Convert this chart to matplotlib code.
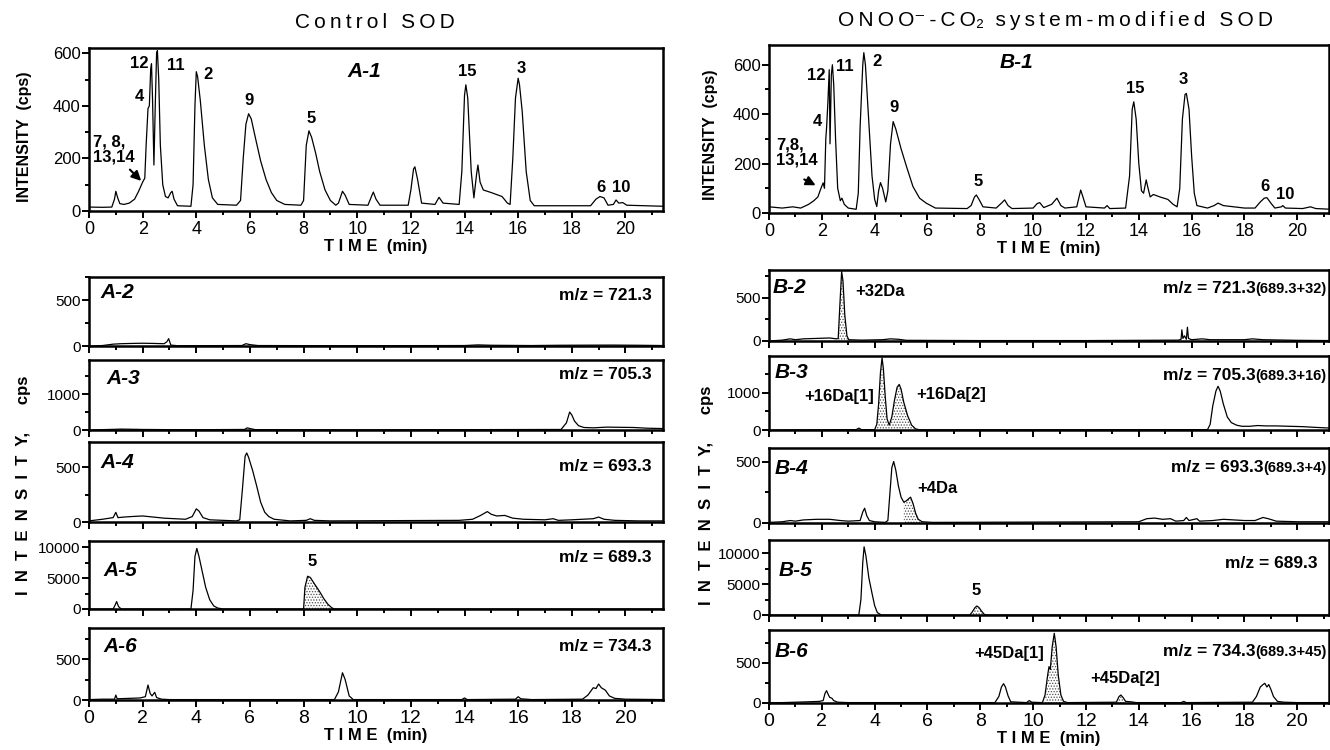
import numpy as np
import matplotlib.pyplot as plt
from matplotlib.ticker import MultipleLocator

plt.rcParams['font.family'] = ['Liberation Sans', 'DejaVu Sans']
plt.rcParams['hatch.linewidth'] = 0.6
plt.rcParams['hatch.color'] = '0.3'

W, H = 1330, 750

# ---- traces: retention time (min) / intensity (cps) ----
a1_t = [0.0, 0.5, 0.85, 0.95, 1.0, 1.07, 1.15, 1.3, 1.5, 1.7, 1.85, 2.0, 2.08, 2.13, 2.2, 2.25, 2.3,
        2.33, 2.37, 2.42, 2.47, 2.52, 2.55, 2.6, 2.66, 2.75, 2.85, 2.95, 3.05, 3.1, 3.17, 3.3, 3.8,
        3.88, 3.95, 4.0, 4.05, 4.15, 4.3, 4.45, 4.6, 4.8, 5.5, 5.65, 5.75, 5.85, 5.95, 6.05, 6.2,
        6.4, 6.6, 6.8, 7.0, 7.3, 7.9, 8.0, 8.1, 8.2, 8.3, 8.45, 8.6, 8.8, 9.0, 9.2, 9.3, 9.45, 9.55,
        9.7, 10.4, 10.55, 10.6, 10.7, 10.85, 11.9, 12.0, 12.1, 12.15, 12.25, 12.4, 12.9, 13.05, 13.2,
        13.8, 13.9, 14.0, 14.05, 14.12, 14.25, 14.35, 14.45, 14.5, 14.58, 14.7, 15.0, 15.4, 15.6,
        15.7, 15.8, 15.9, 16.0, 16.05, 16.15, 16.3, 16.45, 16.6, 18.7, 18.9, 19.05, 19.2, 19.35,
        19.55, 19.65, 19.75, 19.9, 20.05, 21.4]
a1_y = [15, 14, 15, 45, 75, 50, 28, 25, 30, 45, 75, 110, 125, 250, 390, 400, 540,
        560, 420, 175, 400, 600, 610, 500, 250, 100, 55, 50, 70, 75, 45, 20, 18,
        100, 400, 530, 510, 420, 250, 120, 50, 25, 22, 40, 200, 330, 370, 350, 280,
        190, 120, 70, 40, 25, 22, 40, 250, 305, 280, 220, 150, 80, 40, 22, 30, 75, 60,
        25, 22, 60, 72, 45, 22, 22, 80, 160, 168, 120, 30, 25, 52, 30,
        25, 150, 440, 480, 430, 150, 50, 140, 175, 110, 80, 70, 55, 30,
        25, 200, 430, 505, 480, 380, 150, 40, 20, 20, 45, 55, 50, 22,
        25, 42, 30, 32, 22, 18]

a2_t = [0, 0.5, 0.9, 1.2, 1.6, 2.0, 2.4, 2.8, 2.9, 2.97, 3.05, 3.3, 5.7, 5.85, 6.0, 6.3, 9.5,
        14.0, 14.5, 15.0, 16.5, 17.5, 19.5, 20.5, 21.4]
a2_y = [0, 5, 20, 25, 28, 30, 28, 25, 45, 80, 10, 3, 5, 25, 15, 5, 3,
        5, 12, 8, 5, 8, 10, 8, 5]

a3_t = [0, 0.5, 1.0, 1.2, 2.0, 3.0, 4.5, 5.8, 5.9, 6.0, 6.2, 10, 14, 17.6, 17.8, 17.92, 18.0,
        18.1, 18.25, 18.45, 18.8, 19.3, 19.8, 20.3, 20.8, 21.4]
a3_y = [0, 10, 20, 25, 15, 10, 10, 15, 60, 40, 10, 5, 10, 15, 200, 500, 420,
        250, 120, 70, 60, 80, 75, 70, 50, 40]

a4_t = [0, 0.5, 0.9, 1.0, 1.08, 1.3, 1.6, 2.0, 2.4, 2.8, 3.2, 3.6, 3.85, 4.0, 4.1, 4.25, 4.5,
        5.5, 5.62, 5.72, 5.82, 5.88, 5.95, 6.1, 6.25, 6.4, 6.55, 6.7, 6.9, 7.5, 8.1, 8.25, 8.4,
        9.0, 13.8, 14.3, 14.6, 14.85, 15.0, 15.2, 15.5, 15.8, 16.2, 17.0, 17.3, 17.5, 18.0, 18.8,
        19.0, 19.2, 19.6, 20.5, 21.4]
a4_y = [10, 25, 40, 88, 40, 45, 50, 55, 45, 35, 30, 25, 50, 120, 100, 40, 20,
        10, 20, 300, 600, 630, 590, 470, 330, 180, 90, 50, 25, 10, 15, 30, 15,
        10, 15, 25, 60, 95, 70, 55, 60, 35, 25, 20, 30, 15, 20, 30,
        45, 25, 15, 10, 10]

a5_t = [0, 0.9, 0.97, 1.03, 1.1, 1.2, 3.8, 3.88, 3.95, 4.02, 4.1, 4.2, 4.35, 4.5, 4.65, 4.8,
        5.0, 8.0, 8.05, 8.15, 8.25, 8.4, 8.6, 8.75, 8.9, 9.05, 9.15, 21.4]
a5_y = [0, 0, 600, 1200, 400, 0, 0, 3000, 8500, 9800, 8500, 6500, 3500, 1500, 500, 150,
        0, 0, 3500, 5300, 5100, 4100, 2800, 1700, 800, 200, 0, 0]

a6_t = [0, 0.5, 0.95, 1.0, 1.05, 1.5, 1.9, 2.1, 2.2, 2.28, 2.35, 2.45, 2.52, 2.7, 3.0, 9.15,
        9.3, 9.45, 9.55, 9.7, 9.85, 13.9, 14.0, 14.1, 15.9, 16.0, 16.1, 16.5, 18.4, 18.6, 18.8,
        18.9, 19.0, 19.1, 19.25, 19.4, 19.6, 20.0, 21.4]
a6_y = [5, 10, 10, 60, 15, 20, 25, 40, 183, 80, 50, 94, 30, 10, 5, 5,
        100, 333, 250, 50, 5, 5, 25, 5, 10, 40, 15, 5, 10, 60, 150,
        140, 195, 150, 120, 50, 20, 10, 5]

b1_t = [0, 0.5, 0.9, 1.2, 1.5, 1.7, 1.85, 1.95, 2.05, 2.1, 2.15, 2.18, 2.23, 2.28, 2.31, 2.36,
        2.4, 2.45, 2.52, 2.6, 2.7, 2.76, 2.85, 3.0, 3.3, 3.38, 3.45, 3.55, 3.59, 3.65, 3.75, 3.9,
        4.0, 4.08, 4.15, 4.22, 4.3, 4.42, 4.5, 4.6, 4.7, 4.8, 5.0, 5.2, 5.45, 5.7, 5.95, 6.3, 7.5,
        7.65, 7.78, 7.85, 7.95, 8.1, 8.6, 8.8, 8.92, 9.05, 9.2, 10.0, 10.15, 10.25, 10.4, 10.7,
        10.9, 11.05, 11.2, 11.65, 11.8, 11.9, 12.0, 12.7, 12.8, 12.9, 13.5, 13.65, 13.75, 13.81,
        13.9, 14.0, 14.1, 14.18, 14.28, 14.35, 14.43, 14.55, 14.8, 15.1, 15.3, 15.45, 15.55, 15.65,
        15.75, 15.8, 15.9, 16.0, 16.1, 16.2, 16.6, 16.85, 17.0, 17.2, 17.6, 18.0, 18.4, 18.6,
        18.75, 18.85, 19.0, 19.15, 19.4, 19.45, 19.55, 20.2, 20.5, 20.7, 21.3]
b1_y = [25, 20, 25, 20, 35, 50, 65, 95, 122, 100, 300, 345, 450, 580, 280, 560,
        600, 520, 300, 100, 50, 60, 35, 20, 15, 80, 350, 600, 649, 600, 420, 150,
        55, 26, 90, 123, 100, 45, 90, 280, 370, 340, 260, 190, 107, 60, 40, 20, 18,
        30, 65, 73, 55, 25, 20, 40, 53, 30, 18, 20, 38, 42, 22, 35,
        60, 30, 20, 25, 93, 60, 25, 20, 30, 18, 20, 150, 420, 450,
        380, 200, 90, 80, 134, 100, 65, 75, 65, 55, 35, 25, 100, 380,
        480, 484, 420, 230, 80, 30, 20, 30, 40, 30, 25, 20, 20, 45,
        60, 62, 40, 20, 25, 30, 20, 18, 25, 18, 15]

b2_t = [0, 0.5, 0.8, 1.0, 1.3, 1.8, 2.3, 2.55, 2.62, 2.68, 2.75, 2.8, 2.87, 2.95, 3.02, 3.5,
        4.3, 4.6, 4.9, 5.2, 8, 12, 15.5, 15.6, 15.63, 15.67, 15.73, 15.8, 15.84, 15.88, 16.0,
        16.4, 16.7, 18.0, 18.3, 18.7, 20, 21.3]
b2_y = [0, 10, 25, 15, 25, 30, 35, 25, 30, 400, 806, 700, 300, 60, 15, 10,
        15, 25, 20, 8, 5, 5, 10, 20, 130, 30, 60, 20, 160, 30, 15,
        25, 15, 15, 25, 15, 8, 5]

b3_t = [0, 1.0, 3.3, 3.4, 3.5, 4.0, 4.08, 4.15, 4.22, 4.28, 4.33, 4.4, 4.47, 4.55, 4.65, 4.75,
        4.85, 4.93, 5.0, 5.1, 5.25, 5.4, 5.55, 5.7, 16.6, 16.7, 16.8, 16.92, 17.0, 17.08, 17.2,
        17.35, 17.5, 17.7, 17.9, 18.2, 18.5, 18.8, 19.2, 19.7, 20.2, 20.7, 21.3]
b3_y = [0, 5, 10, 50, 10, 10, 150, 700, 1550, 1940, 1650, 900, 300, 130, 350, 800,
        1150, 1226, 1100, 750, 380, 130, 30, 5, 10, 150, 650, 1050, 1176, 1050, 700,
        350, 200, 130, 100, 100, 120, 110, 110, 100, 90, 70, 50]

b4_t = [0, 0.5, 0.8, 1.0, 1.3, 1.8, 2.3, 2.7, 3.0, 3.45, 3.55, 3.62, 3.7, 3.8, 4.0, 4.4, 4.5,
        4.58, 4.65, 4.72, 4.8, 4.9, 5.0, 5.1, 5.2, 5.3, 5.36, 5.45, 5.55, 5.65, 5.8, 6.2, 14.0,
        14.3, 14.6, 14.9, 15.2, 15.4, 15.7, 15.8, 15.9, 16.2, 16.3, 16.8, 17.2, 17.6, 18.0, 18.4,
        18.7, 18.9, 19.2, 20, 21.3]
b4_y = [5, 10, 20, 15, 25, 30, 30, 20, 15, 20, 90, 120, 60, 20, 10, 5, 20,
        250, 450, 500, 430, 300, 210, 170, 180, 200, 210, 160, 80, 30, 10, 5, 10,
        35, 40, 30, 35, 15, 20, 45, 20, 35, 15, 20, 30, 25, 20, 20,
        45, 35, 15, 10, 10]

b5_t = [0, 3.4, 3.48, 3.55, 3.6, 3.67, 3.78, 3.9, 4.0, 4.1, 4.25, 7.6, 7.68, 7.8, 7.87, 7.95,
        8.05, 8.15, 8.25, 21.3]
b5_y = [0, 0, 2500, 8500, 11000, 9500, 6000, 3500, 1500, 400, 0, 0, 400, 1200, 1450, 1200,
        600, 100, 0, 0]

b6_t = [0, 0.5, 1.0, 1.5, 1.9, 2.05, 2.12, 2.18, 2.25, 2.3, 2.38, 2.45, 2.6, 3.0, 8.55, 8.7,
        8.8, 8.88, 8.95, 9.05, 9.15, 9.75, 9.85, 9.95, 10.35, 10.45, 10.55, 10.6, 10.65, 10.72,
        10.8, 10.87, 10.95, 11.05, 11.15, 11.3, 13.15, 13.25, 13.32, 13.4, 13.5, 13.7, 13.9,
        15.6, 15.7, 15.8, 18.3, 18.45, 18.6, 18.7, 18.77, 18.85, 18.92, 19.0, 19.1, 19.25, 19.5,
        20, 21.3]
b6_y = [5, 5, 10, 15, 20, 30, 120, 154, 100, 70, 60, 30, 10, 5, 5, 80,
        200, 241, 200, 90, 15, 5, 30, 10, 5, 100, 350, 454, 420, 700,
        871, 700, 350, 100, 20, 5, 10, 80, 100, 70, 20, 15, 5,
        5, 20, 5, 10, 80, 200, 230, 246, 200, 230, 170, 80, 20, 10,
        5, 5]

# shaded (stippled) peak windows, min
a5_shade = [(8.0, 9.15)]
b2_shade = [(2.62, 3.02)]
b3_shade = [(4.05, 4.55), (4.55, 5.6)]
b4_shade = [(5.05, 5.8)]
b5_shade = [(7.65, 8.2)]
b6_shade = [(10.4, 11.2), (13.15, 13.5)]

# peak numbers in the total ion chromatograms: (text, time, intensity)
a1_peaks = [('12', 1.87, 562), ('11', 3.25, 555), ('2', 4.45, 520), ('4', 1.88, 434),
            ('9', 5.95, 421), ('5', 8.3, 352), ('15', 14.1, 529), ('3', 16.1, 543),
            ('6', 19.1, 90), ('10', 19.85, 90)]
b1_peaks = [('12', 1.8, 557), ('11', 2.87, 594), ('2', 4.07, 614), ('4', 1.82, 370),
            ('9', 4.73, 426), ('5', 7.9, 127), ('15', 13.88, 502), ('3', 15.7, 540),
            ('6', 18.79, 107), ('10', 19.54, 73)]

fig = plt.figure(figsize=(W / 100, H / 100), dpi=100)


def rect(x0, top, x1, bottom):
    return [x0 / W, 1 - bottom / H, (x1 - x0) / W, (bottom - top) / H]


def panel(r, t, y, ylim, ymaj, xmax, shade=(), xlab=False, xsize=14, ysize=11):
    ax = fig.add_axes(r)
    t = np.array(t, float)
    y = np.array(y, float)
    for a, b in shade:
        m = (t >= a) & (t <= b)
        ax.fill_between(t[m], 0, y[m], facecolor='white', hatch='......',
                        edgecolor='0.3', linewidth=0)
    ax.plot(t, y, color='k', lw=0.9)
    ax.set_xlim(0, xmax)
    ax.set_ylim(0, ylim)
    ax.xaxis.set_major_locator(MultipleLocator(2))
    ax.xaxis.set_minor_locator(MultipleLocator(1))
    ax.yaxis.set_major_locator(MultipleLocator(ymaj))
    ax.yaxis.set_minor_locator(MultipleLocator(ymaj / 2))
    ax.tick_params(which='both', direction='out', width=1.4)
    ax.tick_params(which='major', length=5)
    ax.tick_params(which='minor', length=3)
    ax.tick_params(axis='y', labelsize=ysize, pad=1)
    ax.tick_params(axis='x', labelsize=xsize, labelbottom=xlab, pad=2)
    for s in ax.spines.values():
        s.set_linewidth(1.8)
    if xlab:
        ax.set_xlabel('T I M E  (min)', fontsize=12, fontweight='bold', labelpad=1)
    return ax


def tag(ax, name, x, y):
    ax.text(x, y, name, transform=ax.transAxes, fontsize=15, fontweight='bold',
            style='italic', ha='left', va='center')


def mz(ax, main, extra, y):
    if extra:
        t2 = ax.text(0.996, y, extra, transform=ax.transAxes, fontsize=10.5,
                     fontweight='bold', ha='right', va='bottom')
        ax.annotate(main, xy=(0, 0), xycoords=t2, fontsize=12.5, fontweight='bold',
                    ha='right', va='bottom')
    else:
        ax.text(0.98, y, main, transform=ax.transAxes, fontsize=12.5,
                fontweight='bold', ha='right', va='bottom')


AX, BX = 21.4, 21.2
big_label = '  '.join('INTENSITY') + ',      cps'

# ---- left column: control SOD ----
ax = panel(rect(89, 48, 663, 211), a1_t, a1_y, 620, 200, AX, xlab=True, xsize=13, ysize=12)
for s, x, yv in a1_peaks:
    ax.text(x, yv, s, fontsize=12, fontweight='bold', ha='center', va='center')
ax.text(0.15, 233, '7, 8,\n13,14', fontsize=12, fontweight='bold', ha='left', va='center',
        linespacing=1.0)
ax.annotate('', xy=(2.02, 107), xytext=(1.45, 165),
            arrowprops=dict(arrowstyle='-|>', lw=1.5, color='k', mutation_scale=14))
ax.text(9.65, 529, 'A-1', fontsize=15, fontweight='bold', style='italic', va='center')
fig.text(25 / W, 1 - 137 / H, 'INTENSITY  (cps)', rotation=90, fontsize=11.5,
         fontweight='bold', ha='center', va='center')
fig.text(375 / W, 1 - 22 / H, '\u2009'.join('Control SOD'), fontsize=15,
         ha='center', va='center')

ax = panel(rect(89, 277, 663, 346), a2_t, a2_y, 750, 500, AX)
tag(ax, 'A-2', 0.02, 0.77)
mz(ax, 'm/z = 721.3', '', 0.62)
ax = panel(rect(89, 360, 663, 430), a3_t, a3_y, 1950, 1000, AX)
tag(ax, 'A-3', 0.03, 0.74)
mz(ax, 'm/z = 705.3', '', 0.69)
ax = panel(rect(89, 442, 663, 522), a4_t, a4_y, 730, 500, AX)
tag(ax, 'A-4', 0.02, 0.74)
mz(ax, 'm/z = 693.3', '', 0.6)
ax = panel(rect(89, 541, 663, 609), a5_t, a5_y, 11000, 5000, AX, shade=a5_shade)
tag(ax, 'A-5', 0.025, 0.57)
mz(ax, 'm/z = 689.3', '', 0.65)
ax.text(8.32, 7630, '5', fontsize=12, fontweight='bold', ha='center', va='center')
ax = panel(rect(89, 628, 663, 700), a6_t, a6_y, 880, 500, AX, xlab=True)
tag(ax, 'A-6', 0.025, 0.74)
mz(ax, 'm/z = 734.3', '', 0.64)
fig.text(24 / W, 1 - 485 / H, big_label, rotation=90, fontsize=12,
         fontweight='bold', ha='center', va='center')

# ---- right column: ONOO- / CO2 modified SOD ----
ax = panel(rect(769, 45, 1329, 213), b1_t, b1_y, 680, 200, BX, xlab=True, xsize=13, ysize=12)
for s, x, yv in b1_peaks:
    ax.text(x, yv, s, fontsize=12, fontweight='bold', ha='center', va='center')
ax.text(0.27, 243, '7,8,\n13,14', fontsize=12, fontweight='bold', ha='left', va='center',
        linespacing=1.0)
ax.annotate('', xy=(1.86, 107), xytext=(1.24, 141),
            arrowprops=dict(arrowstyle='-|>', lw=1.5, color='k', mutation_scale=14))
ax.text(8.73, 610, 'B-1', fontsize=15, fontweight='bold', style='italic', va='center')
fig.text(710 / W, 1 - 135 / H, 'INTENSITY  (cps)', rotation=90, fontsize=11.5,
         fontweight='bold', ha='center', va='center')
fig.text(1056 / W, 1 - 20 / H,
         '\u2009'.join('ONOO') + '\u207b\u2009-\u2009' + '\u2009'.join('CO') + '\u2082  '
         + '\u2009'.join('system-modified SOD'),
         fontsize=15, ha='center', va='center')

ax = panel(rect(769, 270, 1329, 341), b2_t, b2_y, 825, 500, BX, shade=b2_shade)
tag(ax, 'B-2', 0.007, 0.76)
mz(ax, 'm/z = 721.3', '(689.3+32)', 0.64)
ax.text(3.25, 573, '+32Da', fontsize=12, fontweight='bold', ha='left', va='center')
ax = panel(rect(769, 356, 1329, 430), b3_t, b3_y, 1990, 1000, BX, shade=b3_shade)
tag(ax, 'B-3', 0.01, 0.78)
mz(ax, 'm/z = 705.3', '(689.3+16)', 0.63)
ax.text(3.97, 900, '+16Da[1]', fontsize=12, fontweight='bold', ha='right', va='center')
ax.text(5.56, 950, '+16Da[2]', fontsize=12, fontweight='bold', ha='left', va='center')
ax = panel(rect(769, 448, 1329, 523), b4_t, b4_y, 610, 500, BX, shade=b4_shade)
tag(ax, 'B-4', 0.01, 0.73)
mz(ax, 'm/z = 693.3', '(689.3+4)', 0.64)
ax.text(5.63, 284, '+4Da', fontsize=12, fontweight='bold', ha='left', va='center')
ax = panel(rect(769, 540, 1329, 615), b5_t, b5_y, 12100, 5000, BX, shade=b5_shade)
tag(ax, 'B-5', 0.018, 0.6)
mz(ax, 'm/z = 689.3', '', 0.58)
ax.text(7.84, 4030, '5', fontsize=12, fontweight='bold', ha='center', va='center')
ax = panel(rect(769, 630, 1329, 703), b6_t, b6_y, 912, 500, BX, shade=b6_shade, xlab=True)
tag(ax, 'B-6', 0.01, 0.70)
mz(ax, 'm/z = 734.3', '(689.3+45)', 0.6)
ax.text(10.42, 621, '+45Da[1]', fontsize=12, fontweight='bold', ha='right', va='center')
ax.text(12.17, 309, '+45Da[2]', fontsize=12, fontweight='bold', ha='left', va='center')
fig.text(706 / W, 1 - 495 / H, big_label, rotation=90, fontsize=12,
         fontweight='bold', ha='center', va='center')

fig.savefig('out.png', dpi=100)
